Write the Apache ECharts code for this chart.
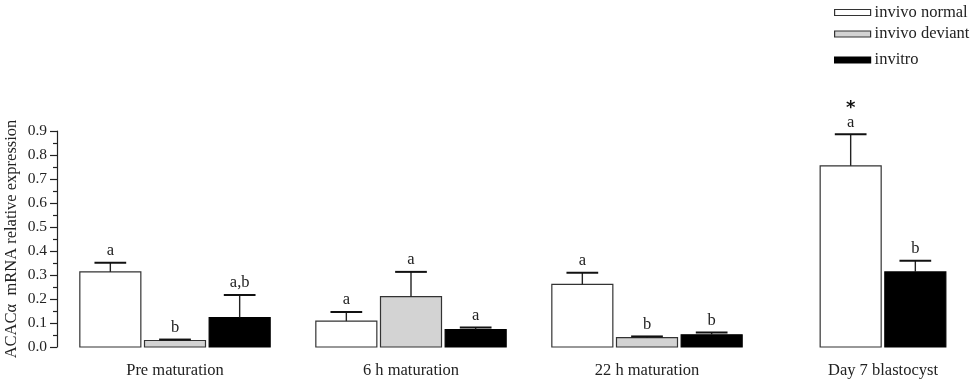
<!DOCTYPE html>
<html>
<head>
<meta charset="utf-8">
<script src="https://cdn.jsdelivr.net/npm/echarts@6/dist/echarts.min.js"></script>
<style>
  html, body { margin: 0; padding: 0; background: #fff; }
  #chart { width: 979px; height: 389px; }
</style>
</head>
<body>
<div id="chart"></div>
<script>
// ACACα expression per stage, three embryo groups (mean ± SEM)
const categories = ['Pre maturation', '6 h maturation', '22 h maturation', 'Day 7 blastocyst'];

const normalMean = [0.313, 0.108, 0.261, 0.755];
const normalErr = [0.038, 0.038, 0.048, 0.131];
const normalLetters = ['a', 'a', 'a', 'a'];
const normalMarks = ['', '', '', '*'];

const deviantMean = [0.027, 0.210, 0.039, null];
const deviantErr = [0.004, 0.103, 0.005, null];
const deviantLetters = ['b', 'a', 'b', null];

const invitroMean = [0.123, 0.073, 0.051, 0.313];
const invitroErr = [0.094, 0.008, 0.009, 0.046];
const invitroLetters = ['a,b', 'a', 'b', 'b'];

const yTicks = { min: 0, max: 0.9, interval: 0.1 };

const FONT = 'Liberation Serif, Times New Roman, serif';
const groups = [
  { name: 'invivo normal', mean: normalMean, err: normalErr, letters: normalLetters, marks: normalMarks, fill: '#ffffff', stroke: '#333333' },
  { name: 'invivo deviant', mean: deviantMean, err: deviantErr, letters: deviantLetters, marks: null, fill: '#d3d3d3', stroke: '#333333' },
  { name: 'invitro', mean: invitroMean, err: invitroErr, letters: invitroLetters, marks: null, fill: '#000000', stroke: '#000000' }
];

function makeRender(slot) {
  return function (params, api) {
    const ci = api.value(0);
    const g = groups[slot];
    const present = [];
    groups.forEach(function (gg, k) { if (gg.mean[ci] != null) present.push(k); });
    const pos = present.indexOf(slot);
    const n = present.length;
    const band = api.size([1, 0])[0];
    const barW = band * 0.2585;
    const gap = band * 0.0155;
    const base = api.coord([ci, 0]);
    const cx = base[0] + (pos - (n - 1) / 2) * (barW + gap);
    const val = api.value(1);
    const err = api.value(2);
    const topY = api.coord([ci, val])[1];
    const capY = api.coord([ci, val + err])[1];
    const capHalf = barW * 0.26;
    const children = [
      {
        type: 'rect',
        shape: { x: cx - barW / 2, y: topY, width: barW, height: base[1] - topY },
        style: { fill: g.fill, stroke: g.stroke, lineWidth: 1.2 }
      },
      {
        type: 'line',
        shape: { x1: cx, y1: topY, x2: cx, y2: capY },
        style: { stroke: '#222', lineWidth: 1.4 }
      },
      {
        type: 'line',
        shape: { x1: cx - capHalf, y1: capY, x2: cx + capHalf, y2: capY },
        style: { stroke: '#111', lineWidth: 2 }
      }
    ];
    const letter = g.letters[ci];
    if (letter) {
      children.push({
        type: 'text',
        style: { text: letter, x: cx, y: capY - 12, align: 'center', verticalAlign: 'middle', font: '16.5px ' + FONT, fill: '#222' }
      });
    }
    if (g.marks && g.marks[ci]) {
      children.push({
        type: 'text',
        style: { text: g.marks[ci], x: cx, y: capY - 26, align: 'center', verticalAlign: 'middle', font: 'bold 18px DejaVu Sans, sans-serif', fill: '#111' }
      });
    }
    return { type: 'group', children: children };
  };
}

function seriesData(g) {
  const out = [];
  g.mean.forEach(function (v, i) {
    if (v != null) out.push([i, v, g.err[i]]);
  });
  return out;
}

const legendTops = [4, 25.5, 51.5];
const legends = groups.map(function (g, k) {
  return {
    left: 834,
    top: legendTops[k],
    padding: 0,
    itemWidth: 36,
    itemHeight: 6,
    selectedMode: false,
    textStyle: { fontFamily: FONT, fontSize: 16.5, color: '#222', padding: [0, 0, 0, -1] },
    data: [{ name: g.name, icon: 'rect', itemStyle: { color: g.fill, borderColor: g.stroke, borderWidth: 1.2 } }]
  };
});

const chart = echarts.init(document.getElementById('chart'), null, { renderer: 'canvas' });
chart.setOption({
  animation: false,
  backgroundColor: '#ffffff',
  legend: legends,
  grid: { left: 57, top: 131, bottom: 42, right: -22, containLabel: false, outerBoundsMode: 'none' },
  xAxis: {
    type: 'category',
    data: categories,
    axisLine: { show: false },
    axisTick: { show: false },
    axisLabel: { margin: 15, fontFamily: FONT, fontSize: 16.5, color: '#222' }
  },
  yAxis: {
    type: 'value',
    min: yTicks.min,
    max: yTicks.max,
    interval: yTicks.interval,
    name: 'ACACα  mRNA relative expression',
    nameLocation: 'middle',
    nameRotate: 90,
    nameGap: 37,
    nameMoveOverlap: false,
    nameTextStyle: { fontFamily: FONT, fontSize: 16.5, color: '#222' },
    axisLine: { show: true, lineStyle: { color: '#222', width: 1.2 } },
    axisTick: { show: true, length: 7, lineStyle: { color: '#222', width: 1.2 } },
    minorTick: { show: true, splitNumber: 2, length: 4, lineStyle: { color: '#222', width: 1.2 } },
    splitLine: { show: false },
    axisLabel: {
      margin: 10,
      fontFamily: FONT,
      fontSize: 15.5,
      color: '#222',
      formatter: function (v) { return v.toFixed(1); }
    }
  },
  series: groups.map(function (g, k) {
    return {
      type: 'custom',
      name: g.name,
      coordinateSystem: 'cartesian2d',
      clip: false,
      itemStyle: { color: g.fill, borderColor: g.stroke, borderWidth: 1.2 },
      encode: { x: 0, y: 1 },
      renderItem: makeRender(k),
      data: seriesData(g)
    };
  })
});
</script>
</body>
</html>
